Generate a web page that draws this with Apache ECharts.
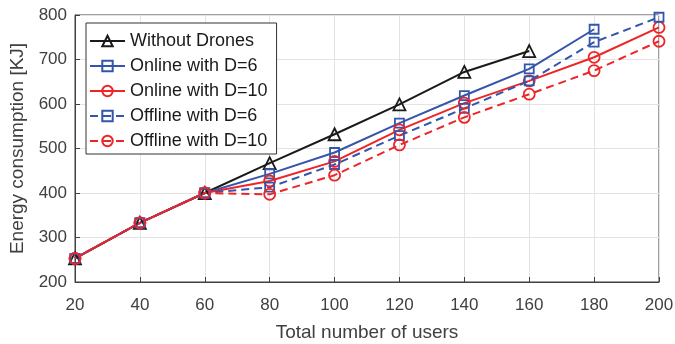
<!DOCTYPE html>
<html>
<head>
<meta charset="utf-8">
<script src="https://cdn.jsdelivr.net/npm/echarts@6/dist/echarts.min.js"></script>
<style>
  html, body { margin: 0; padding: 0; background: #fff; }
  #main { width: 675px; height: 344px; }
</style>
</head>
<body>
<div id="main"></div>
<script>
    // data
    var users = [20, 40, 60, 80, 100, 120, 140, 160, 180, 200];
    var withoutDrones = [253, 333, 400, 467, 532, 599, 672, 719, null, null];
    var onlineD6 = [253, 333, 400, 443, 491, 557, 619, 679, 768, null];
    var onlineD10 = [253, 333, 400, 427, 471, 542, 602, 652, 705, 772];
    var offlineD6 = [253, 333, 400, 413, 464, 529, 590, 652, 739, 795];
    var offlineD10 = [253, 333, 400, 397, 440, 508, 570, 622, 675, 741];

    var BLACK = '#1a1a1a', BLUE = '#3355aa', RED = '#ee2528';
    var font = 'Liberation Sans, Arial, Helvetica, sans-serif';

    function pairs(arr) {
        var out = [];
        for (var i = 0; i < users.length; i++) {
            if (arr[i] != null) out.push([users[i], arr[i]]);
        }
        return out;
    }

    function mkSeries(name, arr, color, symbol, size, dashed) {
        return {
            name: name,
            type: 'line',
            data: pairs(arr),
            symbol: symbol,
            symbolSize: size,
            showAllSymbol: true,
            itemStyle: { color: 'rgba(255,255,255,0)', borderColor: color, borderWidth: 1.8 },
            lineStyle: { color: color, width: 2, type: dashed ? [8, 5] : 'solid' },
            emphasis: { disabled: true },
            animation: false
        };
    }

    var myChart = echarts.init(document.getElementById('main'));
    var option = {
        animation: false,
        grid: {
            left: 75, right: 16, top: 15, bottom: 62,
            outerBoundsMode: 'none',
            containLabel: false,
            show: true, borderColor: '#404040', borderWidth: 1
        },
        legend: {
            left: 86, top: 23,
            orient: 'vertical',
            backgroundColor: '#fff',
            borderColor: '#333',
            borderWidth: 1,
            padding: [9, 9, 4, 3],
            itemWidth: 35,
            itemHeight: 13,
            itemGap: 7,
            textStyle: { fontFamily: font, fontSize: 18, color: '#1a1a1a' },
            data: ['Without Drones', 'Online with D=6', 'Online with D=10', 'Offline with D=6', 'Offline with D=10']
        },
        xAxis: {
            type: 'value',
            min: 20, max: 200, interval: 20,
            name: 'Total number of users',
            nameLocation: 'middle',
            nameGap: 41,
            nameTextStyle: { fontFamily: font, fontSize: 19, color: '#404040' },
            axisLine: { lineStyle: { color: '#404040' } },
            axisTick: { inside: true, length: 5, lineStyle: { color: '#404040' } },
            axisLabel: { fontFamily: font, fontSize: 17, color: '#404040', margin: 15 },
            splitLine: { show: true, lineStyle: { color: '#e3e3e3' } }
        },
        yAxis: {
            type: 'value',
            min: 200, max: 800, interval: 100,
            name: 'Energy consumption [KJ]',
            nameLocation: 'middle',
            nameGap: 40,
            nameTextStyle: { fontFamily: font, fontSize: 19, color: '#404040' },
            axisLine: { show: true, lineStyle: { color: '#404040' } },
            axisTick: { show: true, inside: true, length: 5, lineStyle: { color: '#404040' } },
            axisLabel: { fontFamily: font, fontSize: 17, color: '#404040', margin: 8 },
            splitLine: { show: true, lineStyle: { color: '#e3e3e3' } }
        },
        series: [
            mkSeries('Without Drones', withoutDrones, BLACK, 'triangle', 12, false),
            mkSeries('Online with D=6', onlineD6, BLUE, 'rect', 9, false),
            mkSeries('Online with D=10', onlineD10, RED, 'circle', 11, false),
            mkSeries('Offline with D=6', offlineD6, BLUE, 'rect', 9, true),
            mkSeries('Offline with D=10', offlineD10, RED, 'circle', 11, true)
        ]
    };
    myChart.setOption(option);
</script>
</body>
</html>
